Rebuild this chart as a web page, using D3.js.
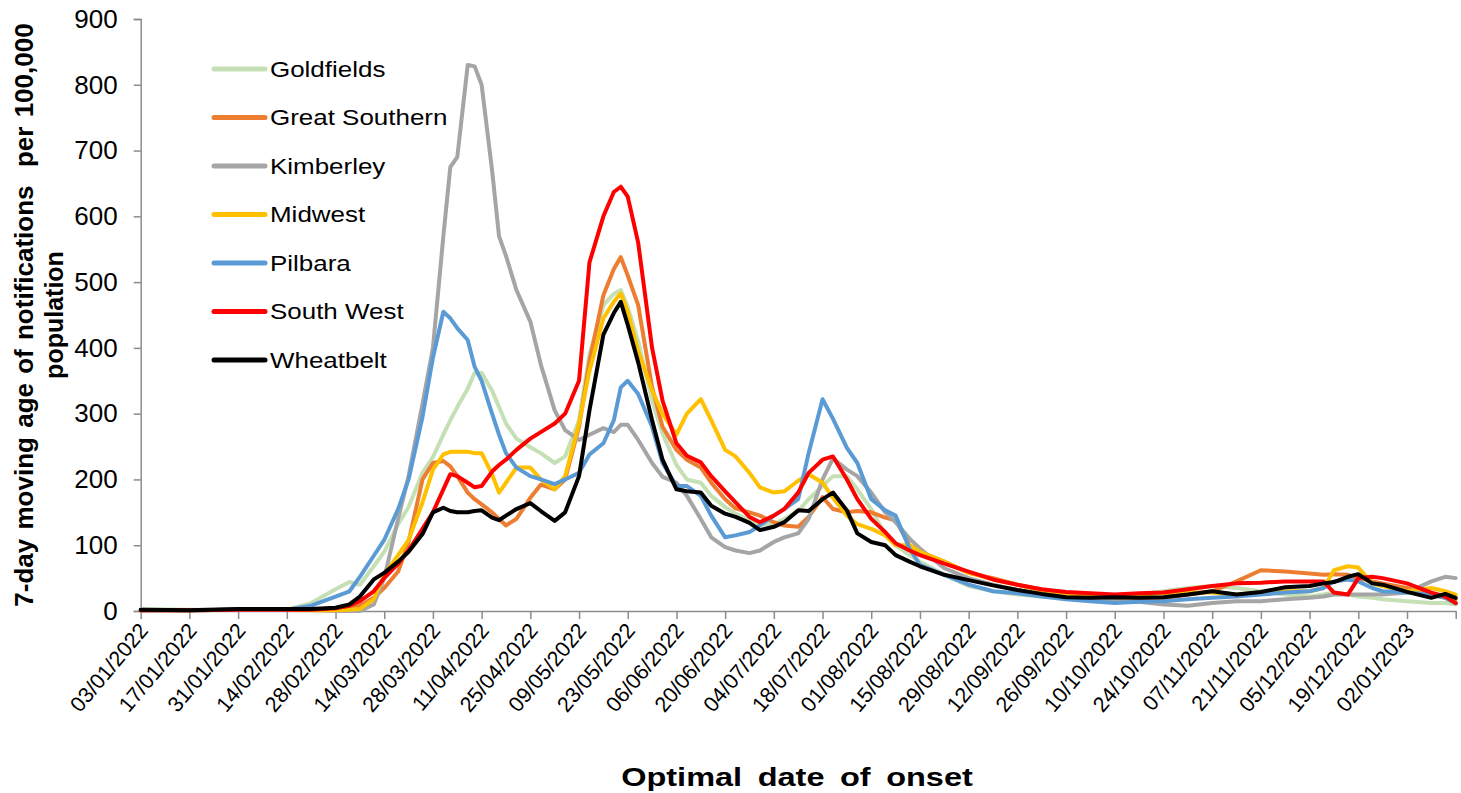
<!DOCTYPE html>
<html lang="en">
<head>
<meta charset="UTF-8">
<title>7-day moving average of notifications per 100,000 population by region</title>
<style>
  body { margin: 0; background: #fff; }
  svg text { font-family: Arial, "Liberation Sans", sans-serif; fill: #000; }
</style>
</head>
<body>
<svg id="chart" width="1461" height="793"></svg>
<script src="https://d3js.org/d3.v7.min.js"></script>
<script>
// ---- data ----
const dates = [
  "03/01/2022","17/01/2022","31/01/2022","14/02/2022","21/02/2022","28/02/2022",
  "04/03/2022","07/03/2022","11/03/2022","14/03/2022","18/03/2022","21/03/2022","25/03/2022","28/03/2022","31/03/2022","02/04/2022",
  "04/04/2022","07/04/2022","09/04/2022","11/04/2022","14/04/2022","16/04/2022","18/04/2022","21/04/2022","25/04/2022","28/04/2022",
  "02/05/2022","05/05/2022","09/05/2022","12/05/2022","16/05/2022","19/05/2022","21/05/2022","23/05/2022","26/05/2022","30/05/2022","02/06/2022",
  "06/06/2022","09/06/2022","13/06/2022","16/06/2022","20/06/2022","23/06/2022","27/06/2022","30/06/2022","04/07/2022","07/07/2022",
  "11/07/2022","14/07/2022","18/07/2022","21/07/2022","25/07/2022","28/07/2022","01/08/2022","05/08/2022","08/08/2022","12/08/2022",
  "15/08/2022","22/08/2022","29/08/2022","05/09/2022","12/09/2022","19/09/2022","26/09/2022","03/10/2022","10/10/2022","17/10/2022",
  "24/10/2022","31/10/2022","07/11/2022","14/11/2022","21/11/2022","28/11/2022","05/12/2022","09/12/2022","12/12/2022","16/12/2022",
  "19/12/2022","23/12/2022","26/12/2022","02/01/2023","09/01/2023","13/01/2023","16/01/2023"
];

const goldfields = [
  3, 2, 2, 2, 12, 33,
  44, 40, 68, 90, 132, 158, 210, 234, 268, 290,
  310, 338, 362, 362, 335, 310, 285, 262, 249, 240,
  225, 235, 290, 390, 465, 482, 488, 462, 410, 320, 270,
  222, 200, 195, 175, 158, 148, 138, 132, 132, 140,
  152, 170, 190, 205, 205, 185, 155, 115, 100, 85,
  75, 55, 38, 30, 25, 22, 20, 20, 22, 25,
  30, 35, 38, 35, 30, 25, 22, 25, 28, 25,
  22, 20, 18, 15, 12, 12, 10
];
const greatSouthern = [
  1, 1, 2, 2, 2, 2,
  4, 8, 20, 35, 60, 105, 200, 225, 228, 220,
  205, 180, 170, 162, 150, 140, 130, 140, 172, 192,
  185, 200, 280, 380, 480, 520, 538, 510, 465, 340, 280,
  245, 230, 218, 195, 170, 156, 150, 145, 135, 130,
  128, 143, 173, 155, 150, 152, 150, 142, 138, 100,
  90, 75, 58, 50, 40, 32, 27, 22, 20, 15,
  20, 25, 30, 45, 62, 60, 57, 55, 56, 55,
  50, 45, 42, 35, 25, 20, 18
];
const kimberley = [
  1, 1, 2, 2, 2, 0,
  0, 0, 10, 50, 140, 205, 315, 400, 570, 675,
  690, 830, 828, 800, 670, 570, 540, 488, 440, 375,
  305, 275, 260, 268, 278, 272, 283, 283, 260, 225, 204,
  195, 175, 140, 112, 97, 92, 88, 92, 105, 112,
  118, 140, 200, 232, 215, 205, 180, 150, 135, 110,
  95, 65, 50, 40, 32, 25, 20, 18, 15, 14,
  10, 8, 12, 15, 15, 18, 20, 22, 25, 25,
  25, 25, 25, 28, 45, 52, 50
];
const midwest = [
  1, 1, 2, 2, 1, 1,
  2, 3, 18, 55, 85, 108, 165, 215, 238, 242,
  242, 242, 240, 240, 208, 180, 195, 218, 218, 200,
  185, 205, 285, 365, 445, 470, 483, 455, 395, 335, 300,
  268, 300, 322, 290, 245, 235, 210, 188, 180, 182,
  198, 208, 195, 172, 145, 132, 125, 115, 100, 100,
  90, 75, 58, 48, 40, 32, 27, 25, 22, 25,
  27, 28, 28, 25, 28, 30, 30, 35, 62, 68,
  66, 42, 38, 30, 35, 30, 25
];
const pilbara = [
  1, 1, 2, 2, 8, 22,
  30, 52, 84, 108, 155, 200, 295, 385, 455, 445,
  430, 412, 371, 350, 300, 268, 240, 218, 205, 200,
  193, 200, 210, 238, 255, 290, 340, 350, 330, 280, 225,
  190, 190, 175, 145, 112, 115, 120, 130, 145, 155,
  170, 240, 322, 292, 248, 225, 170, 153, 145, 95,
  70, 55, 40, 30, 27, 22, 18, 15, 12, 14,
  15, 18, 20, 22, 25, 28, 30, 35, 45, 48,
  45, 35, 30, 28, 25, 20, 12
];
const southWest = [
  1, 1, 2, 2, 2, 4,
  8, 15, 30, 50, 72, 92, 125, 150, 185, 208,
  205, 195, 188, 190, 212, 222, 230, 245, 262, 272,
  285, 300, 350, 530, 600, 637, 645, 630, 560, 400, 320,
  255, 236, 226, 205, 182, 165, 143, 135, 145, 155,
  180, 210, 230, 235, 200, 170, 140, 120, 103, 92,
  85, 72, 60, 48, 40, 33, 29, 27, 25, 27,
  28, 33, 38, 42, 43, 45, 45, 45, 28, 25,
  50, 52, 50, 42, 28, 22, 12
];
const wheatbelt = [
  2, 1, 3, 3, 3, 5,
  10, 22, 48, 58, 75, 90, 117, 150, 157, 152,
  150, 150, 152, 153, 142, 138, 145, 155, 164, 152,
  137, 150, 205, 305, 420, 453, 470, 435, 378, 290, 230,
  185, 182, 180, 160, 148, 143, 134, 123, 128, 135,
  153, 152, 170, 180, 153, 118, 105, 100, 85, 75,
  68, 55, 47, 39, 32, 26, 21, 20, 21, 20,
  21, 25, 30, 25, 29, 36, 38, 42, 44, 52,
  56, 42, 40, 29, 20, 26, 20
];

const seriesNames = ["Goldfields", "Great Southern", "Kimberley", "Midwest", "Pilbara", "South West", "Wheatbelt"];
const seriesValues = [goldfields, greatSouthern, kimberley, midwest, pilbara, southWest, wheatbelt];
const seriesColors = ["#c5e0b4", "#ed7d31", "#a5a5a5", "#ffc000", "#5b9bd5", "#ff0000", "#000000"];

const yTicks = [0, 100, 200, 300, 400, 500, 600, 700, 800, 900];
const xTickLabels = [
  "03/01/2022","17/01/2022","31/01/2022","14/02/2022","28/02/2022","14/03/2022","28/03/2022",
  "11/04/2022","25/04/2022","09/05/2022","23/05/2022","06/06/2022","20/06/2022","04/07/2022",
  "18/07/2022","01/08/2022","15/08/2022","29/08/2022","12/09/2022","26/09/2022","10/10/2022",
  "24/10/2022","07/11/2022","21/11/2022","05/12/2022","19/12/2022","02/01/2023"
];
const xAxisEnd = "16/01/2023";

const yTitle1 = "7-day moving age of notifications  per 100,000";
const yTitle2 = "population";
const xTitle = "Optimal date of onset";

// ---- layout ----
const margin = { left: 140.7, right: 5.3, top: 19, bottom: 182 };
const W = 1461, H = 793;
const parse = d3.timeParse("%d/%m/%Y");
const axisColor = "#8c8c8c";

const svg = d3.select("#chart");

const x = d3.scaleTime()
  .domain([parse(xTickLabels[0]), parse(xAxisEnd)])
  .range([margin.left, W - margin.right]);
const y = d3.scaleLinear()
  .domain([0, 900])
  .range([H - margin.bottom, margin.top]);

// y axis
const yAxis = svg.append("g")
  .attr("transform", `translate(${margin.left},0)`)
  .call(d3.axisLeft(y).tickValues(yTicks).tickSize(7).tickPadding(16));
yAxis.select(".domain").attr("stroke", axisColor).attr("stroke-width", 1.5);
yAxis.selectAll(".tick line").attr("stroke", axisColor).attr("stroke-width", 1.5);
yAxis.selectAll(".tick text").attr("font-size", 26).attr("fill", "#000")
  .attr("font-family", "Arial, 'Liberation Sans', sans-serif");

// x axis
const tickDates = xTickLabels.map(parse).concat([parse(xAxisEnd)]);
const xAxis = svg.append("g")
  .attr("transform", `translate(0,${H - margin.bottom})`)
  .call(d3.axisBottom(x).tickValues(tickDates).tickSize(8).tickSizeOuter(0)
    .tickFormat((d, i) => i < xTickLabels.length ? xTickLabels[i] : ""));
xAxis.select(".domain").attr("stroke", axisColor).attr("stroke-width", 1.5);
xAxis.selectAll(".tick line").attr("stroke", axisColor).attr("stroke-width", 1.5);
xAxis.selectAll(".tick text")
  .attr("font-size", 21.5)
  .attr("fill", "#000")
  .attr("font-family", "Arial, 'Liberation Sans', sans-serif")
  .attr("text-anchor", "end")
  .attr("dy", null)
  .attr("y", 0)
  .attr("transform", "translate(8,20) rotate(-50)");

// lines
const line = d3.line()
  .x((d, i) => x(parse(dates[i])))
  .y(d => y(d));

svg.append("g")
  .selectAll("path")
  .data(seriesValues)
  .join("path")
  .attr("d", line)
  .attr("fill", "none")
  .attr("stroke", (d, i) => seriesColors[i])
  .attr("stroke-width", 4)
  .attr("stroke-linejoin", "round")
  .attr("stroke-linecap", "round");

// legend
const legend = svg.append("g");
seriesNames.forEach((name, i) => {
  const ly = 69 + i * 48.5;
  legend.append("line")
    .attr("x1", 214).attr("x2", 265)
    .attr("y1", ly).attr("y2", ly)
    .attr("stroke", seriesColors[i])
    .attr("stroke-width", 5)
    .attr("stroke-linecap", "round");
  legend.append("text")
    .attr("transform", `translate(270,${ly}) scale(1.18,1)`)
    .attr("dy", "0.36em")
    .attr("font-size", 22)
    .text(name);
});

// axis titles
const yT = svg.append("g").attr("transform", `translate(0,${(margin.top + H - margin.bottom) / 2})`);
yT.append("text")
  .attr("transform", "translate(33,0) rotate(-90)")
  .attr("text-anchor", "middle")
  .attr("font-size", 26)
  .attr("font-weight", "bold")
  .style("white-space", "pre")
  .style("word-spacing", "2px")
  .text(yTitle1);
yT.append("text")
  .attr("transform", "translate(63,0) rotate(-90)")
  .attr("text-anchor", "middle")
  .attr("font-size", 25)
  .attr("font-weight", "bold")
  .text(yTitle2);

svg.append("text")
  .attr("transform", "translate(797,786) scale(1.3,1)")
  .attr("text-anchor", "middle")
  .attr("font-size", 25)
  .attr("font-weight", "bold")
  .style("word-spacing", "5px")
  .text(xTitle);
</script>
</body>
</html>
